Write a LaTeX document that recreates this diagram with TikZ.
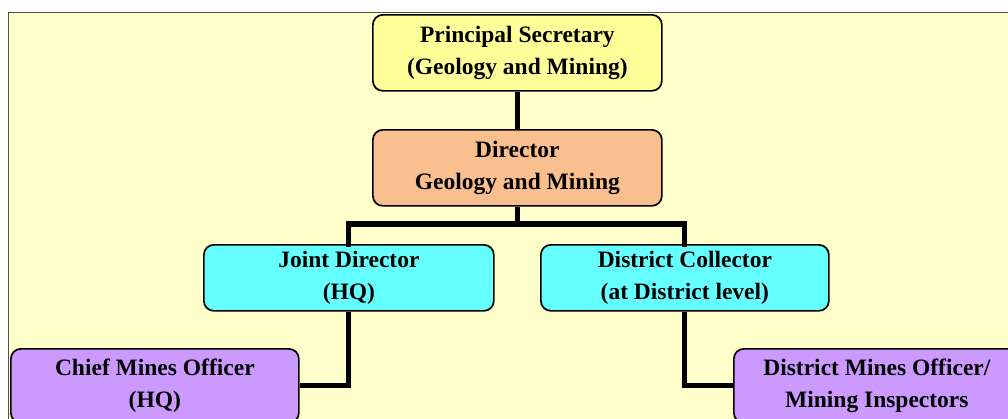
\documentclass[tikz,border=0pt]{standalone}
\usepackage{fontspec}
\setmainfont{Liberation Serif}
\definecolor{panelbg}{HTML}{FFFFCC}
\definecolor{panelline}{HTML}{505050}
\definecolor{psfill}{HTML}{FFFF99}
\definecolor{dirfill}{HTML}{FABF8F}
\definecolor{midfill}{HTML}{66FFFF}
\definecolor{lowfill}{HTML}{CC99FF}
\tikzset{
  orgbox/.style={draw=black, line width=1.7pt, rounded corners=10pt,
    align=center, inner sep=0pt, anchor=north west,
    font=\fontsize{23.5}{32.5}\selectfont\bfseries},
  link/.style={line width=5.2pt, line join=miter}
}
\begin{document}
\begin{tikzpicture}[x=1pt,y=-1pt]
  \useasboundingbox (0,0) rectangle (1008,418);
  \clip (0,0) rectangle (1008,418);
  \fill[white] (0,0) rectangle (1008,418);
  % background panel
  \draw[fill=panelbg, draw=panelline, line width=1.4pt] (8.7,12.5) rectangle (1030,440);

  % boxes
  \node[orgbox, fill=psfill, minimum width=289pt, minimum height=76pt] (ps) at (372,14)
    {Principal Secretary\\(Geology and Mining)};
  \node[orgbox, fill=dirfill, minimum width=289pt, minimum height=76pt] (dir) at (372,129)
    {Director\\Geology and Mining};
  \node[orgbox, fill=midfill, minimum width=290pt, minimum height=66pt] (jd) at (203,244)
    {Joint Director\\(HQ)};
  \node[orgbox, fill=midfill, minimum width=288pt, minimum height=66pt] (dc) at (540,244)
    {District Collector\\(at District level)};
  \node[orgbox, fill=lowfill, minimum width=288pt, minimum height=74pt] (cmo) at (10,348)
    {Chief Mines Officer\\(HQ)};
  \node[orgbox, fill=lowfill, minimum width=286pt, minimum height=74pt] (dmo) at (733,348)
    {District Mines Officer/\\Mining Inspectors};

  % connectors
  \coordinate (busy) at (0,224);
  \coordinate (bus) at (dir.south |- busy);
  \draw[link] (ps.south) -- (dir.north);
  \draw[link] (dir.south) -- (bus);
  \draw[link, line cap=rect] (jd.north) |- (bus) -| (dc.north);
  \draw[link] (jd.south) |- (cmo.east);
  \draw[link] (dc.south) |- (dmo.west);
\end{tikzpicture}
\end{document}
